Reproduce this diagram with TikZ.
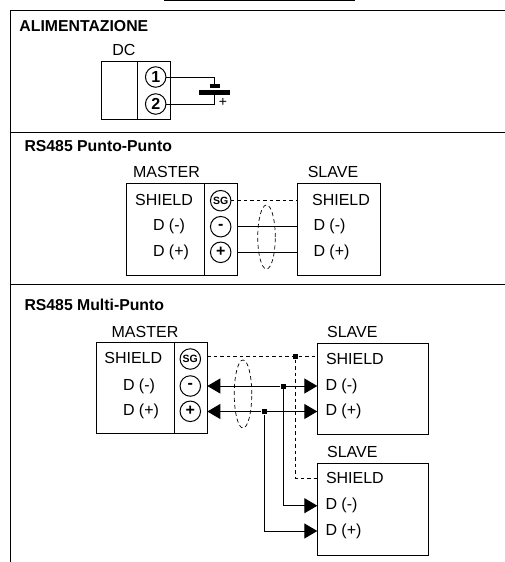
\documentclass[tikz,border=0pt]{standalone}
\usepackage{fontspec}
\setmainfont{Liberation Sans}
\usetikzlibrary{arrows.meta,shapes.geometric}

\begin{document}
\begin{tikzpicture}[x=1pt,y=-1pt,line width=1pt,
    lab/.style={inner sep=0pt,font=\fontsize{16}{16}\selectfont},
    title/.style={inner sep=0pt,anchor=west,font=\fontsize{15.8}{16}\selectfont\bfseries},
    box/.style={draw,inner sep=0pt,outer sep=0pt},
    pin/.style={draw,circle,minimum size=20.5pt,inner sep=0pt,outer sep=0pt,font=\fontsize{16}{16}\selectfont\bfseries},
    pinsg/.style={pin,font=\fontsize{10.5}{10.5}\selectfont\bfseries},
    cable/.style={draw,dashed,dash pattern=on 4pt off 3pt,ellipse,line width=.7pt,inner sep=0pt,minimum width=17.5pt,minimum height=64pt},
    dot/.style={fill,inner sep=0pt,minimum size=5pt},
    bar/.style={fill,inner sep=0pt},
    shield/.style={dashed,dash pattern=on 3.5pt off 3pt},
    toslave/.style={-{Triangle[length=13pt,width=15pt]}}]
  \useasboundingbox (0,0) rectangle (505,562);

  % frame
  \foreach \y in {10,132,284.5}
    \draw (10,\y) -- (505,\y);
  \draw (10,10) -- (10,562);
  \draw[line width=1.5pt] (164,.5) -- (355,.5);

  % alimentazione
  \node[title] (t_dc) at (19,26) {ALIMENTAZIONE};
  \node[lab] (l_dc) at (124,50) {DC};
  \node[box,minimum width=69pt,minimum height=58pt] (dc) at (135.5,90) {};
  \draw (137.5,61) -- (137.5,119);
  \node[pin] (dc_1) at (155.7,77) {1};
  \node[pin] (dc_2) at (155.7,104) {2};
  \node[bar,minimum width=10pt,minimum height=3.5pt] (bat_s) at (214.5,86) {};
  \node[bar,minimum width=31pt,minimum height=4.5pt] (bat_l) at (214,92.5) {};
  \node[lab,font=\fontsize{14}{14}\selectfont] (bat_p) at (223,102) {+};
  \draw (dc_1.east) -| (bat_s.north);
  \draw (dc_2.east) -| (bat_l.south);

  % punto-punto
  \node[title] (t_pp) at (24,146) {RS485 Punto-Punto};
  \node[lab] (l_pm) at (166.5,172) {MASTER};
  \node[lab] (l_ps) at (333,172) {SLAVE};
  \node[box,minimum width=110.5pt,minimum height=92pt] (pm) at (182,229) {};
  \node[box,minimum width=83.5pt,minimum height=92pt] (ps) at (339,229) {};
  \draw (204.3,183) -- (204.3,275);
  \node[lab] (pm_s) at (164,199.5) {SHIELD};
  \node[lab] (pm_n) at (169,226.5) {D (-)};
  \node[lab] (pm_p) at (171,252) {D (+)};
  \node[pinsg] (pp_sg) at (220.7,200.7) {SG};
  \node[pin] (pp_n) at (220.7,226.7) {-};
  \node[pin] (pp_p) at (220.7,252.3) {+};
  \node[lab] (ps_s) at (341,199.5) {SHIELD};
  \node[lab,anchor=west] (ps_n) at (313,226.5) {D (-)};
  \node[lab,anchor=west] (ps_p) at (313,252) {D (+)};
  \draw[shield] (pp_sg.east) -- (pp_sg -| ps.west);
  \draw (pp_n -| pm.east) -- (pp_n -| ps.west);
  \draw (pp_p -| pm.east) -- (pp_p -| ps.west);
  \node[cable] (c_p) at (266.5,237) {};

  % multi-punto
  \node[title] (t_mp) at (24,304.5) {RS485 Multi-Punto};
  \node[lab] (l_mm) at (145,332) {MASTER};
  \node[lab] (l_s1) at (352.3,331.7) {SLAVE};
  \node[lab] (l_s2) at (352.3,451.7) {SLAVE};
  \node[box,minimum width=111.3pt,minimum height=90.6pt] (mm) at (151.7,388) {};
  \node[box,minimum width=111pt,minimum height=90.7pt] (s1) at (372.8,389.3) {};
  \node[box,minimum width=111pt,minimum height=91.7pt] (s2) at (372.8,509.2) {};
  \draw (174.7,342.7) -- (174.7,433.3);
  \node[lab] (mm_s) at (133.3,358) {SHIELD};
  \node[lab] (mm_n) at (139,386) {D (-)};
  \node[lab] (mm_p) at (141,411) {D (+)};
  \node[pinsg] (mp_sg) at (190.3,359) {SG};
  \node[pin] (mp_n) at (190.3,386) {-};
  \node[pin] (mp_p) at (190.3,411.3) {+};
  \node[lab,anchor=west] (s1_s) at (325.5,359) {SHIELD};
  \node[lab,anchor=west] (s1_n) at (325,386) {D (-)};
  \node[lab,anchor=west] (s1_p) at (325,411.7) {D (+)};
  \node[lab,anchor=west] (s2_s) at (325.5,478) {SHIELD};
  \node[lab,anchor=west] (s2_n) at (325,505.7) {D (-)};
  \node[lab,anchor=west] (s2_p) at (325,531) {D (+)};
  \node[dot] (j_s) at (295.7,356.5) {};
  \node[dot] (j_n) at (283.3,386) {};
  \node[dot] (j_p) at (264.3,411.5) {};
  \draw[shield] (j_s -| mm.east) -- (j_s) -- (j_s -| s1.west);
  \draw[shield] (j_s) |- (s2_s -| s2.west);
  \draw[toslave] (j_n) -- (j_n -| s1.west);
  \draw[toslave] (j_p) -- (j_p -| s1.west);
  \draw[toslave] (j_n) -- (j_n -| mm.east);
  \draw[toslave] (j_p) -- (j_p -| mm.east);
  \draw[toslave] (j_n) |- (s2_n -| s2.west);
  \draw[toslave] (j_p) |- (s2_p -| s2.west);
  \node[cable,minimum height=68pt] (c_m) at (243,394) {};
\end{tikzpicture}
\end{document}
